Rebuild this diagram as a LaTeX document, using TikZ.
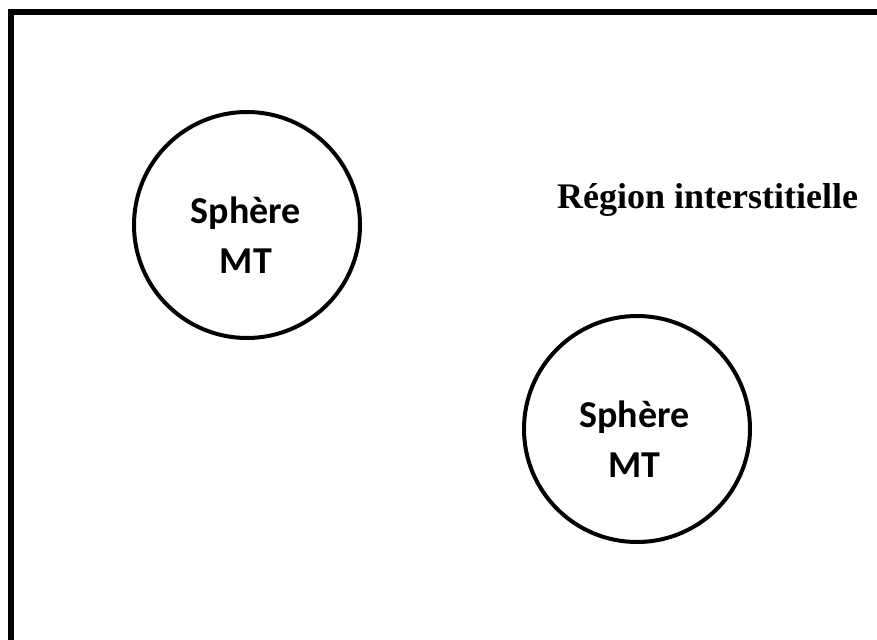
\documentclass[tikz,border=0pt]{standalone}
\usepackage{fontspec}
\setmainfont{Liberation Serif}
\newfontfamily\calib{Carlito}
\tikzset{
  sphere/.style={draw=black, line width=4bp, circle, minimum size=226bp, inner sep=0pt},
  spheretext/.style={font=\calib\bfseries\fontsize{38bp}{44bp}\selectfont, anchor=base, inner sep=0pt},
  regiontext/.style={font=\bfseries\fontsize{36bp}{43bp}\selectfont, anchor=base west, inner sep=0pt},
  frame/.style={line width=5.5bp, line join=miter}
}
\begin{document}
\begin{tikzpicture}[x=1bp, y=-1bp]
\useasboundingbox (0,0) rectangle (877,640);
\coordinate (fr1) at (877,11.8);
\coordinate (fr2) at (11.2,11.8);
\coordinate (fr3) at (11.2,640);
\draw[frame] (fr1) -- (fr2) -- (fr3);
\node[sphere] (s1) at (247,225) {};
\node[spheretext] (s1a) at (246,223.5) {Sphère};
\node[spheretext] (s1b) at (246,273) {MT};
\node[sphere] (s2) at (637,429) {};
\node[spheretext] (s2a) at (634.5,427) {Sphère};
\node[spheretext] (s2b) at (634.5,477) {MT};
\node[regiontext] (reg) at (557,209) {Région interstitielle};
\end{tikzpicture}
\end{document}
